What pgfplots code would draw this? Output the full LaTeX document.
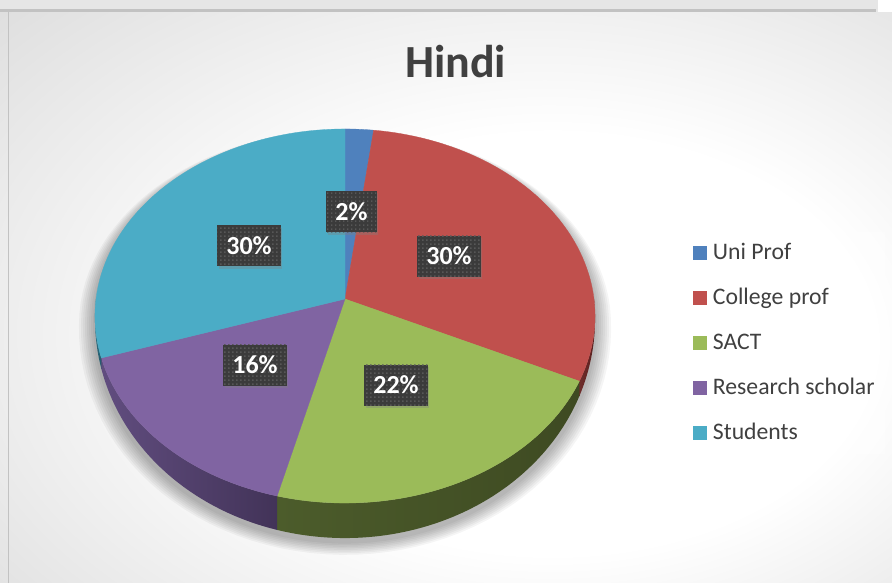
\documentclass[border=0pt]{standalone}
\usepackage{fontspec}
\setmainfont{Carlito}
\usepackage{pgfplots}
\pgfplotsset{compat=1.18}
\usepackage{pgfplotstable}
\usetikzlibrary{patterns,shadows}

\definecolor{cUni}{HTML}{4F81BD}
\definecolor{cCol}{HTML}{C0504D}
\definecolor{cSACT}{HTML}{9BBB59}
\definecolor{cRes}{HTML}{8064A2}
\definecolor{cStu}{HTML}{4BACC6}
\definecolor{sUniL}{HTML}{2F4D72}\definecolor{sUniR}{HTML}{27415F}
\definecolor{sColL}{HTML}{6E2D2B}\definecolor{sColR}{HTML}{5A1F1E}
\definecolor{sSACTL}{HTML}{4C5C2B}\definecolor{sSACTR}{HTML}{3E4A22}
\definecolor{sResL}{HTML}{614D7F}\definecolor{sResR}{HTML}{423358}
\definecolor{sStuL}{HTML}{2D6E80}\definecolor{sStuR}{HTML}{25596A}
\definecolor{txtgrey}{HTML}{404040}
\definecolor{lblbg}{HTML}{3B3B3B}
\definecolor{lbldot}{HTML}{575757}
\definecolor{bgmid}{HTML}{D6D6D6}
\definecolor{bgout}{HTML}{C4C4C4}
\definecolor{topstrip}{HTML}{E6E6E6}
\definecolor{edgegrey}{HTML}{C2C2C2}

\pgfdeclareradialshading{bgshade}{\pgfpoint{8bp}{-6bp}}{%
  color(0bp)=(white); color(18bp)=(white); color(45bp)=(bgmid); color(72bp)=(bgout)}
\pgfdeclarepatternformonly{sqdots}{\pgfpointorigin}{\pgfpoint{4.3pt}{4.3pt}}{\pgfpoint{4.3pt}{4.3pt}}%
  {\pgfpathrectangle{\pgfpoint{1.4pt}{1.4pt}}{\pgfpoint{1.5pt}{1.5pt}}\pgfusepath{fill}}

\pgfplotstableread[col sep=comma]{
label,value,top,sidel,sider
Uni Prof,2,cUni,sUniL,sUniR
College prof,30,cCol,sColL,sColR
SACT,22,cSACT,sSACTL,sSACTR
Research scholar,16,cRes,sResL,sResR
Students,30,cStu,sStuL,sStuR
}\piedata

\begin{document}
\begin{tikzpicture}
\begin{axis}[
  width=892pt, height=583pt, scale only axis,
  xmin=0, xmax=892, ymin=0, ymax=583, y dir=reverse,
  hide axis, clip=false,
  declare function={S(\t)=1/(1+0.0909*sin(\t));
                    PX(\t)=345+249*cos(\t)*S(\t);
                    PY(\t)=299-185.5*sin(\t)*S(\t);},
  legend style={at={(axis description cs:0.7646,0.6020)}, anchor=north west,
    draw=none, fill=white, fill opacity=0.35, text opacity=1,
    inner xsep=10.7pt, inner ysep=10pt, column sep=6pt, row sep=23pt,
    nodes={inner sep=0pt, text height=17pt, text depth=5pt, text=txtgrey},
    font=\fontsize{23.7}{26}\selectfont},
  legend cell align=left,
  legend image code/.code={\path[#1,draw=none,fill opacity=1] (0pt,-7pt) rectangle (14pt,7pt);},
]
% background
\fill[shading=bgshade] (axis cs:0,0) rectangle (axis cs:892,583);
\fill[topstrip] (axis cs:0,0) rectangle (axis cs:892,10);
\fill[edgegrey] (axis cs:0,9.5) rectangle (axis cs:876,12.5);
\fill[white] (axis cs:878,0) rectangle (axis cs:892,12.5);
\fill[edgegrey] (axis cs:7.5,12.5) rectangle (axis cs:9,583);

% soft shadow of the pie
\pgfplotsforeachungrouped \k in {1,...,8}{%
  \edef\tmp{\noexpand\addplot[forget plot, draw=none, fill=black, fill opacity=0.04,
     domain=0:360, samples=120]
     ({345+(249+\k*2)*cos(x)*S(x)},
      {299+4+\k*0.5-(185.5+\k)*sin(x)*S(x)+35*max(-sin(x),0)});}
  \tmp
}

% pie
\def\cum{90}
\pgfplotsforeachungrouped \i in {0,...,4}{%
  \pgfplotstablegetelem{\i}{value}\of\piedata \let\v\pgfplotsretval
  \pgfplotstablegetelem{\i}{label}\of\piedata \let\lab\pgfplotsretval
  \pgfplotstablegetelem{\i}{top}\of\piedata \let\ct\pgfplotsretval
  \pgfplotstablegetelem{\i}{sidel}\of\piedata \let\sl\pgfplotsretval
  \pgfplotstablegetelem{\i}{sider}\of\piedata \let\sr\pgfplotsretval
  \pgfmathsetmacro\a{\cum}
  \pgfmathsetmacro\b{\cum-3.6*\v}
  \let\cum\b
  \pgfmathsetmacro\sa{min(\a,0)}
  \pgfmathsetmacro\sb{max(\b,-180)}
  \pgfmathparse{((\sa)>(\sb))?1:0}
  \ifdim\pgfmathresult pt>0.5pt
    % side wall: top arc sa->sb, vertical edge, bottom arc sb->sa
    \edef\tmp{\noexpand\addplot[forget plot, draw=none, left color=\sl, right color=\sr,
       domain=0:2.02, samples=203]
       ({PX((\sa)+((\sb)-(\sa))*(min(x,1)-max(x-1.02,0)))},
        {PY((\sa)+((\sb)-(\sa))*(min(x,1)-max(x-1.02,0)))
          -35*min(max((x-1)/0.02,0),1)*sin((\sa)+((\sb)-(\sa))*(min(x,1)-max(x-1.02,0)))}) -- cycle;}
    \tmp
  \fi
  \edef\tmp{\noexpand\addplot[fill=\ct, draw=\ct, line width=0.3pt, domain=\b:\a, samples=60]
     ({PX(x)},{PY(x)}) -- (axis cs:345,299) -- cycle;
     \noexpand\addlegendentry{\lab}}
  \tmp
}

% data labels
\tikzset{lbl/.style={fill=lblbg, text=white, font=\fontsize{26}{28}\selectfont\bfseries,
   minimum height=41pt, inner xsep=9pt, inner ysep=0pt, text height=17.5pt, text depth=0.5pt,
   postaction={pattern=sqdots, pattern color=lbldot},
   drop shadow={shadow xshift=1.5pt, shadow yshift=-2.5pt, opacity=0.35}}}
\node[lbl] at (axis cs:351.5,211.5) {2\%};
\node[lbl] at (axis cs:449,256) {30\%};
\node[lbl] at (axis cs:396,385) {22\%};
\node[lbl] at (axis cs:255,365) {16\%};
\node[lbl] at (axis cs:249,245.5) {30\%};

% title
\node[font=\fontsize{46}{50}\selectfont\bfseries, text=txtgrey] at (axis cs:455.5,62) {Hindi};
\end{axis}
\end{tikzpicture}
\end{document}
